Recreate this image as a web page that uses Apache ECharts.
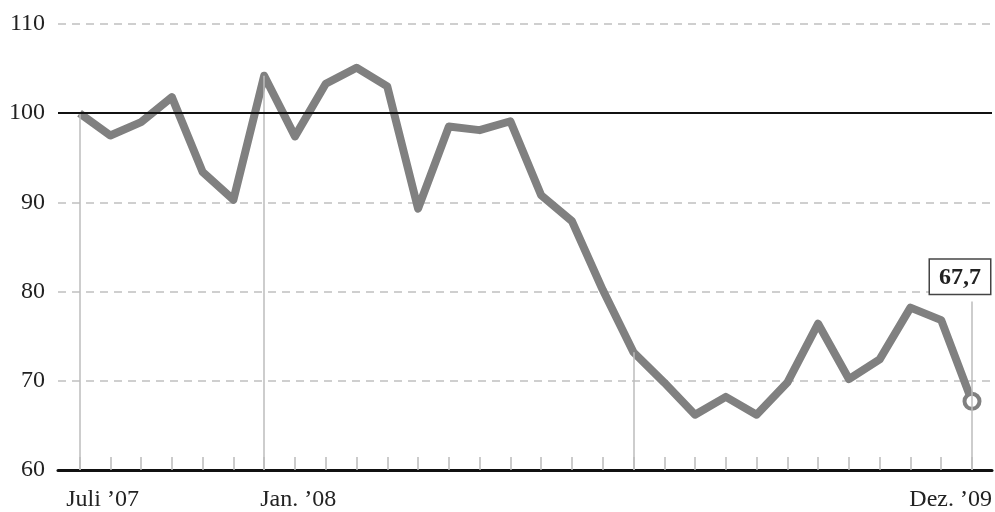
<!DOCTYPE html>
<html>
<head>
<meta charset="utf-8">
<script src="https://cdn.jsdelivr.net/npm/echarts@6/dist/echarts.min.js"></script>
<style>
  html, body { margin: 0; padding: 0; background: #fff; }
  #chart { width: 995px; height: 512px; }
</style>
</head>
<body>
<div id="chart"></div>
<script>
// Monatswerte Juli '07 .. Dez. '09 (Index, Juli '07 = 100)
var months = ['Juli ’07', 'Aug. ’07', 'Sep. ’07', 'Okt. ’07', 'Nov. ’07', 'Dez. ’07',
    'Jan. ’08', 'Feb. ’08', 'März ’08', 'Apr. ’08', 'Mai ’08', 'Juni ’08',
    'Juli ’08', 'Aug. ’08', 'Sep. ’08', 'Okt. ’08', 'Nov. ’08', 'Dez. ’08',
    'Jan. ’09', 'Feb. ’09', 'März ’09', 'Apr. ’09', 'Mai ’09', 'Juni ’09',
    'Juli ’09', 'Aug. ’09', 'Sep. ’09', 'Okt. ’09', 'Nov. ’09', 'Dez. ’09'];
var values = [100, 97.5, 99.0, 101.8, 93.4, 90.3,
    104.2, 97.4, 103.3, 105.1, 103.0, 89.3,
    98.5, 98.1, 99.1, 90.8, 87.9, 80.2,
    73.2, 69.8, 66.2, 68.2, 66.2, 69.8,
    76.4, 70.2, 72.4, 78.2, 76.8, 67.7];
var yTicks = [60, 70, 80, 90, 100, 110];
var labelMonths = [0, 6];     // Beschriftung links
var dropMonths = [0, 6, 18];  // senkrechte Hilfslinien
var baseLine = 100;

var xMin = -0.7, xMax = 29.65;
var last = values.length - 1;
var serif = '"Liberation Serif", "DejaVu Serif", serif';

var lineData = values.map(function (v, i) {
    if (i === last) {
        return {
            value: [i, v],
            symbol: 'circle',
            symbolSize: 15,
            itemStyle: { color: '#fff', borderColor: '#808080', borderWidth: 4 },
            label: {
                show: true,
                position: 'top',
                distance: 98,
                offset: [-12, 0],
                formatter: function (p) { return String(p.value[1]).replace('.', ','); },
                fontFamily: serif,
                fontWeight: 'bold',
                fontSize: 24,
                color: '#222',
                backgroundColor: '#fff',
                borderColor: '#444',
                borderWidth: 1.5,
                padding: [6, 9, 4, 9]
            }
        };
    }
    return [i, v];
});

var dropLines = dropMonths.map(function (i) {
    return [{ coord: [i, yTicks[0]] }, { coord: [i, values[i]] }];
});
// Linie vom Endpunkt bis zur Wertbox
dropLines.push([{ coord: [last, yTicks[0]] }, { coord: [last, 78.9] }]);

var allMonths = months.map(function (m, i) { return i; });

var option = {
    animation: false,
    grid: { left: 58, right: 2, top: 24, bottom: 41 },
    xAxis: [
        {
            type: 'value',
            min: xMin,
            max: xMax,
            axisLine: { show: true, lineStyle: { color: '#111', width: 3 } },
            axisTick: {
                show: true,
                inside: true,
                length: 13,
                customValues: allMonths,
                lineStyle: { color: '#bbb', width: 1.5 }
            },
            axisLabel: {
                customValues: labelMonths,
                align: 'center',
                margin: 18,
                fontFamily: serif,
                fontSize: 24,
                color: '#222',
                formatter: function (v) {
                    var i = Math.round(v);
                    return (i === 0 ? '{a|' : '{b|') + months[i] + '}';
                },
                rich: {
                    a: { fontFamily: serif, fontSize: 24, color: '#222', padding: [0, 0, 0, 46] },
                    b: { fontFamily: serif, fontSize: 24, color: '#222', padding: [0, 0, 0, 68] }
                }
            },
            splitLine: { show: false }
        },
        {
            type: 'value',
            position: 'bottom',
            min: xMin,
            max: xMax,
            axisLine: { show: false },
            axisTick: { show: false },
            axisLabel: {
                customValues: [xMax],
                align: 'right',
                margin: 18,
                fontFamily: serif,
                fontSize: 24,
                color: '#222',
                formatter: function () { return months[last]; }
            },
            splitLine: { show: false }
        }
    ],
    yAxis: {
        type: 'value',
        min: yTicks[0],
        max: yTicks[yTicks.length - 1],
        interval: 10,
        axisLine: { show: false },
        axisTick: { show: false },
        axisLabel: {
            margin: 13,
            fontFamily: serif,
            fontSize: 24,
            color: '#222'
        },
        splitLine: {
            show: true,
            lineStyle: { color: '#cfcfcf', width: 2, type: [8, 6] }
        }
    },
    series: [
        {
            // Hilfslinien
            type: 'line',
            data: [],
            z: 1,
            silent: true,
            markLine: {
                symbol: 'none',
                silent: true,
                label: { show: false },
                lineStyle: { color: '#bdbdbd', width: 1.5, type: 'solid' },
                data: dropLines
            }
        },
        {
            type: 'line',
            data: [],
            z: 2,
            silent: true,
            markLine: {
                symbol: 'none',
                silent: true,
                label: { show: false },
                lineStyle: { color: '#111', width: 2, type: 'solid' },
                data: [{ yAxis: baseLine }]
            }
        },
        {
            type: 'line',
            z: 3,
            data: lineData,
            symbol: 'none',
            showSymbol: true,
            showAllSymbol: true,
            lineStyle: { color: '#808080', width: 8, join: 'round' },
            itemStyle: { color: '#808080' }
        }
    ]
};

var myChart = echarts.init(document.getElementById('chart'));
myChart.setOption(option);
</script>
</body>
</html>
